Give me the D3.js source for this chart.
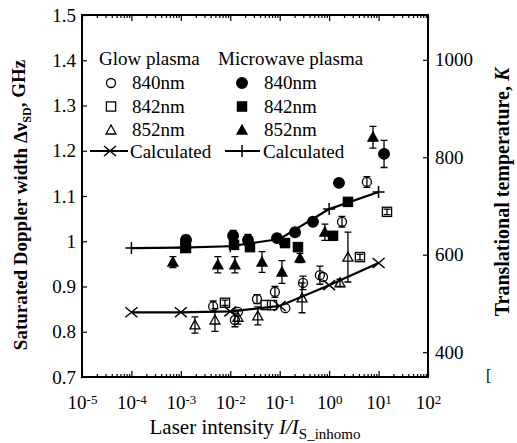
<!DOCTYPE html>
<html>
<head>
<meta charset="utf-8">
<script src="https://cdn.jsdelivr.net/npm/d3@7"></script>
<style>
  body { margin: 0; background: #fff; }
  text { font-family: "Liberation Serif", "Times New Roman", serif; fill: #000; }
</style>
</head>
<body>
<div id="chart"></div>
<script>
// values: x = I/I_S_inhomo, v = Δν_SD (GHz), e = half error bar
var glow840 = [
  {x: 0.0045, v: 0.856, e: 0.012}, {x: 0.0124, v: 0.826, e: 0.015}, {x: 0.0143, v: 0.844, e: 0},
  {x: 0.0347, v: 0.872, e: 0.010}, {x: 0.080, v: 0.888, e: 0.012}, {x: 0.13, v: 0.852, e: 0},
  {x: 0.296, v: 0.908, e: 0.015}, {x: 0.65, v: 0.925, e: 0.02}, {x: 0.75, v: 0.921, e: 0},
  {x: 1.82, v: 1.043, e: 0.012}, {x: 5.8, v: 1.131, e: 0.012}
];
var glow842 = [
  {x: 0.0078, v: 0.864, e: 0.006}, {x: 0.052, v: 0.859, e: 0}, {x: 0.07, v: 0.859, e: 0},
  {x: 4.2, v: 0.965, e: 0.006}, {x: 14.8, v: 1.065, e: 0.006}
];
var glow852 = [
  {x: 0.00193, v: 0.815, e: 0.018}, {x: 0.0049, v: 0.826, e: 0.025}, {x: 0.0143, v: 0.832, e: 0.015},
  {x: 0.036, v: 0.835, e: 0.02}, {x: 0.283, v: 0.875, e: 0.033}, {x: 1.66, v: 0.908, e: 0.008},
  {x: 2.4, v: 0.965, e: 0.055}
];
var micro840 = [
  {x: 0.00127, v: 1.003, e: 0.01}, {x: 0.0114, v: 1.012, e: 0.012}, {x: 0.0228, v: 1.003, e: 0.012},
  {x: 0.088, v: 1.007, e: 0}, {x: 0.204, v: 1.020, e: 0}, {x: 0.471, v: 1.043, e: 0},
  {x: 1.58, v: 1.129, e: 0}, {x: 12.9, v: 1.193, e: 0.03}
];
var micro842 = [
  {x: 0.00127, v: 0.985}, {x: 0.0119, v: 0.992}, {x: 0.025, v: 0.987}, {x: 0.128, v: 0.996},
  {x: 0.234, v: 0.987}, {x: 1.2, v: 1.012}, {x: 2.4, v: 1.087}
];
var micro852 = [
  {x: 0.00069, v: 0.954, e: 0.012}, {x: 0.0056, v: 0.948, e: 0.018}, {x: 0.0124, v: 0.948, e: 0.018},
  {x: 0.0438, v: 0.954, e: 0.023}, {x: 0.111, v: 0.932, e: 0.025}, {x: 0.257, v: 0.963, e: 0.01},
  {x: 0.82, v: 1.020, e: 0.018}, {x: 7.7, v: 1.230, e: 0.024}
];
// calculated curves
var calcX = [1e-4, 1e-3, 1e-2, 0.1, 1, 10];
var calcGlow = [0.843, 0.843, 0.845, 0.857, 0.903, 0.952];
var calcMicro = [0.985, 0.986, 0.989, 1.005, 1.071, 1.109];

// axis ticks
var xExponents = ["-5", "-4", "-3", "-2", "-1", "0", "1", "2"];
var yTicks = [0.7, 0.8, 0.9, 1.0, 1.1, 1.2, 1.3, 1.4, 1.5];
var yTickLabels = ["0.7", "0.8", "0.9", "1", "1.1", "1.2", "1.3", "1.4", "1.5"];
var tTicks = [400, 600, 800, 1000];

var margin = {top: 15, right: 89, bottom: 66, left: 82},
    width = 517 - margin.left - margin.right,
    height = 443 - margin.top - margin.bottom;

var svg = d3.select("#chart").append("svg")
  .attr("width", 517).attr("height", 443)
  .append("g").attr("transform", "translate(" + margin.left + "," + margin.top + ")");

var x = d3.scaleLog().domain([1e-5, 1e2]).range([0, width]);
var y = d3.scaleLinear().domain([0.7, 1.5]).range([height, 0]);
// temperature axis on the right (linear, matched to the printed ticks)
var yT = d3.scaleLinear().domain([349, 1092]).range([height, 0]);

var decades = xExponents.map(function(e) { return Math.pow(10, +e); });
var minor = x.ticks().filter(function(d) { return decades.indexOf(d) < 0; });

// minor + major ticks on bottom and top
svg.append("g").attr("transform", "translate(0," + height + ")")
  .call(d3.axisBottom(x).tickValues(minor).tickSizeInner(-3).tickSizeOuter(0).tickFormat(""));
var xb = svg.append("g").attr("transform", "translate(0," + height + ")")
  .call(d3.axisBottom(x).tickValues(decades).tickSizeInner(-6).tickSizeOuter(0).tickPadding(19).tickFormat(""));
svg.append("g")
  .call(d3.axisTop(x).tickValues(minor).tickSizeInner(-3).tickSizeOuter(0).tickFormat(""));
svg.append("g")
  .call(d3.axisTop(x).tickValues(decades).tickSizeInner(-6).tickSizeOuter(0).tickFormat(""));

xb.selectAll(".tick text").each(function(d, i) {
  var t = d3.select(this).attr("font-size", 19);
  t.append("tspan").text("10");
  t.append("tspan").attr("dy", "-0.45em").attr("font-size", 13).text(xExponents[i]);
});

svg.append("g")
  .call(d3.axisLeft(y).tickValues(yTicks).tickSizeInner(-5).tickSizeOuter(0).tickPadding(6)
    .tickFormat(function(d, i) { return yTickLabels[i]; }))
  .selectAll("text").attr("font-size", 19);

svg.append("g").attr("transform", "translate(" + width + ",0)")
  .call(d3.axisRight(yT).tickValues(tTicks).tickSizeInner(-5).tickSizeOuter(0).tickPadding(7)
    .tickFormat(d3.format("d")))
  .selectAll("text").attr("font-size", 19);

svg.selectAll(".domain").remove();
svg.selectAll(".tick line").attr("stroke", "#000").attr("stroke-width", 1.2);
svg.selectAll(".tick text").attr("font-family", "Liberation Serif").attr("fill", "#000");

svg.append("rect").attr("width", width).attr("height", height)
  .attr("fill", "none").attr("stroke", "#000").attr("stroke-width", 2);

// marker drawing
function marker(g, type, cx, cy) {
  var s = 4.6;
  if (type == "circle" || type == "dot") {
    g.append("circle").attr("cx", cx).attr("cy", cy).attr("r", type == "dot" ? 5.3 : 4.5)
      .attr("fill", type == "dot" ? "#000" : "none").attr("stroke", "#000").attr("stroke-width", 1.3);
  } else if (type == "square" || type == "fsquare") {
    g.append("rect").attr("x", cx - s).attr("y", cy - s).attr("width", 2 * s).attr("height", 2 * s)
      .attr("fill", type == "fsquare" ? "#000" : "none").attr("stroke", "#000").attr("stroke-width", 1.3);
  } else if (type == "tri" || type == "ftri") {
    g.append("path").attr("d", "M" + cx + "," + (cy - 5) + "L" + (cx + 5) + "," + (cy + 4) + "L" + (cx - 5) + "," + (cy + 4) + "Z")
      .attr("fill", type == "ftri" ? "#000" : "none").attr("stroke", "#000").attr("stroke-width", 1.3);
  } else if (type == "cross") {
    g.append("path").attr("d", "M" + (cx - 6) + "," + (cy - 5) + "L" + (cx + 6) + "," + (cy + 5) + "M" + (cx - 6) + "," + (cy + 5) + "L" + (cx + 6) + "," + (cy - 5))
      .attr("stroke", "#000").attr("stroke-width", 1.5);
  } else if (type == "plus") {
    g.append("path").attr("d", "M" + (cx - 6) + "," + cy + "L" + (cx + 6) + "," + cy + "M" + cx + "," + (cy - 6) + "L" + cx + "," + (cy + 6))
      .attr("stroke", "#000").attr("stroke-width", 1.5);
  }
}

// calculated lines
var line = d3.line().x(function(d) { return x(d[0]); }).y(function(d) { return y(d[1]); });
[[calcGlow, "cross"], [calcMicro, "plus"]].forEach(function(c) {
  var pts = calcX.map(function(xx, i) { return [xx, c[0][i]]; });
  svg.append("path").datum(pts).attr("d", line).attr("fill", "none").attr("stroke", "#000").attr("stroke-width", 2.2);
  var g = svg.append("g");
  pts.forEach(function(p) { marker(g, c[1], x(p[0]), y(p[1])); });
});

// data series with error bars
function series(data, type) {
  var g = svg.append("g");
  data.forEach(function(d) {
    if (d.e) {
      var cx = x(d.x), y0 = y(d.v - d.e), y1 = y(d.v + d.e);
      g.append("path").attr("d", "M" + cx + "," + y0 + "L" + cx + "," + y1 +
        "M" + (cx - 3.5) + "," + y0 + "L" + (cx + 3.5) + "," + y0 +
        "M" + (cx - 3.5) + "," + y1 + "L" + (cx + 3.5) + "," + y1)
        .attr("stroke", "#000").attr("stroke-width", 1.3).attr("fill", "none");
    }
    marker(g, type, x(d.x), y(d.v));
  });
}
series(glow840, "circle");
series(glow842, "square");
series(glow852, "tri");
series(micro840, "dot");
series(micro842, "fsquare");
series(micro852, "ftri");

// legend (page coordinates)
var leg = d3.select("svg").append("g").attr("font-size", 19);
leg.append("text").attr("x", 99).attr("y", 65).text("Glow plasma");
leg.append("text").attr("x", 218).attr("y", 65).text("Microwave plasma");
var rows = [["840nm", "circle", "dot"], ["842nm", "square", "fsquare"], ["852nm", "tri", "ftri"]];
rows.forEach(function(r, i) {
  var by = 89 + i * 23.5;
  marker(leg, r[1], 111, by - 6);
  leg.append("text").attr("x", 132).attr("y", by).text(r[0]);
  marker(leg, r[2], 242, by - 6);
  leg.append("text").attr("x", 264).attr("y", by).text(r[0]);
});
leg.append("path").attr("d", "M90,151L128,151M225,151L260,151").attr("stroke", "#000").attr("stroke-width", 2);
marker(leg, "cross", 110, 151);
marker(leg, "plus", 242, 151);
leg.append("text").attr("x", 130).attr("y", 158).text("Calculated");
leg.append("text").attr("x", 263).attr("y", 158).text("Calculated");

// axis titles
var xt = d3.select("svg").append("text").attr("x", 255).attr("y", 434)
  .attr("text-anchor", "middle").attr("font-size", 21);
xt.append("tspan").text("Laser intensity ");
xt.append("tspan").attr("font-style", "italic").text("I/I");
xt.append("tspan").attr("dy", "0.3em").attr("font-size", 15).text("S_inhomo");

var yl = d3.select("svg").append("text")
  .attr("transform", "translate(27,205) rotate(-90)")
  .attr("text-anchor", "middle").attr("font-size", 19).attr("font-weight", "bold");
yl.append("tspan").text("Saturated Doppler width Δν");
yl.append("tspan").attr("dy", "0.35em").attr("font-size", 12).text("SD");
yl.append("tspan").attr("dy", "-0.35em").text(", GHz");

var yr = d3.select("svg").append("text")
  .attr("transform", "translate(509,192) rotate(-90)")
  .attr("text-anchor", "middle").attr("font-size", 20).attr("font-weight", "bold");
yr.append("tspan").text("Translational temperature, ");
yr.append("tspan").attr("font-style", "italic").text("K");

d3.select("svg").append("text").attr("x", 486).attr("y", 381).attr("font-size", 16).text("[");
</script>
</body>
</html>
